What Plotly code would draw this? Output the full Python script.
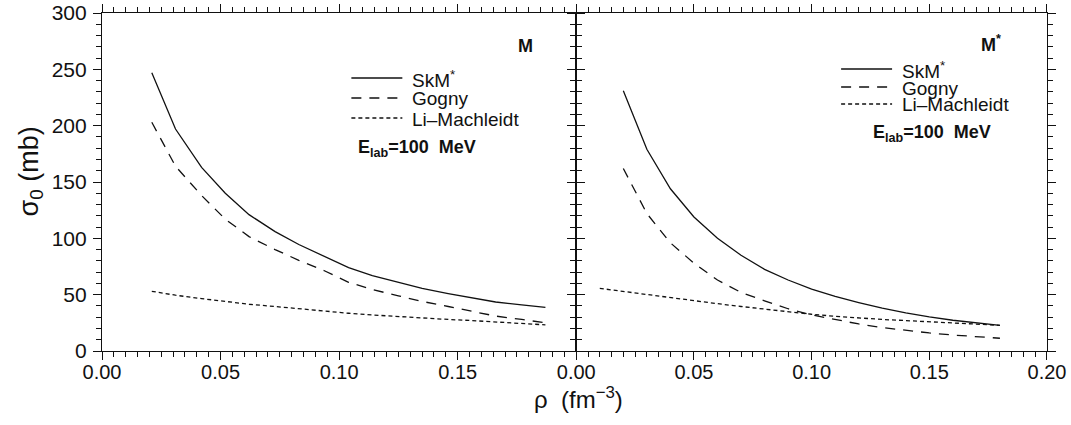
import plotly.graph_objects as go
from plotly.subplots import make_subplots

# ---------------- data ----------------
rho_left = [0.021, 0.031, 0.042, 0.052, 0.062, 0.073, 0.083, 0.094, 0.104,
            0.114, 0.125, 0.135, 0.146, 0.156, 0.166, 0.177, 0.187]
skm_M = [247, 197, 163, 140, 121, 106, 94.5, 84, 74, 67, 61, 55.5, 51, 47, 43.5, 41, 38.8]
gogny_M = [203, 164, 138, 117, 101.5, 90, 80.5, 71, 61, 54.5, 49, 44, 39.5, 35, 31, 28, 25]
li_M = [53, 49.5, 46.5, 44, 41.5, 39.5, 37.5, 35.5, 33.5, 32, 30.5, 29.3, 28, 27, 25.8, 24.5, 23.2]

rho_right = [0.02, 0.03, 0.04, 0.05, 0.06, 0.07, 0.08, 0.09, 0.10,
             0.11, 0.12, 0.13, 0.14, 0.15, 0.16, 0.17, 0.18]
skm_Mstar = [231, 179, 144, 119, 100, 85, 72.5, 63, 55, 48.5, 43, 38, 33.8, 30.2, 27.3, 25, 22.8]
gogny_Mstar = [162, 122, 96, 78, 63, 52, 44.5, 37.5, 32, 28, 24, 20.8, 18.3, 16, 14.2, 12.7, 11.3]
rho_li_right = [0.01, 0.02, 0.03, 0.04, 0.05, 0.06, 0.07, 0.08, 0.09,
                0.10, 0.11, 0.12, 0.13, 0.14, 0.15, 0.16, 0.17, 0.18]
li_Mstar = [55.6, 52.8, 50, 47.3, 44.7, 42, 39.5, 37, 34.8, 32.6, 30.8, 29.3, 28, 27, 26, 25, 23.9, 22.8]

series_names = ["SkM<sup>*</sup>", "Gogny", "Li\u2013Machleidt"]
x_ticks_left = [0.0, 0.05, 0.10, 0.15, 0.20]
x_ticktext_left = ["0.00", "0.05", "0.10", "0.15", ""]
x_ticks_right = [0.0, 0.05, 0.10, 0.15, 0.20]
x_ticktext_right = ["0.00", "0.05", "0.10", "0.15", "0.20"]
y_ticks = [0, 50, 100, 150, 200, 250, 300]

# ---------------- layout geometry ----------------
W, H = 1071, 425
L, R, T, B = 101.5, 1047, 13, 351
FONT = "Liberation Sans, Arial, Helvetica, sans-serif"
INK = "#111111"


def px(xp):
    return (xp - L) / (R - L)


def py(yp):
    return (B - yp) / (B - T)


split = px(576)

fig = make_subplots(rows=1, cols=2, shared_yaxes=True, horizontal_spacing=0)

dashes = ["solid", "10px,8px", "4px,3px"]

panels = [
    (1, [skm_M, gogny_M, li_M], [rho_left, rho_left, rho_left]),
    (2, [skm_Mstar, gogny_Mstar, li_Mstar], [rho_right, rho_right, rho_li_right]),
]
for col, ys, xs in panels:
    for name, xv, yv, d in zip(series_names, xs, ys, dashes):
        fig.add_trace(
            go.Scatter(x=xv, y=yv, mode="lines", name=name, showlegend=False,
                       line=dict(color=INK, width=1.3, dash=d)),
            row=1, col=col)

axis_common = dict(
    range=[0, 0.2], showline=True, linecolor=INK, linewidth=1.2, mirror="ticks",
    ticks="outside", ticklen=8, tickcolor=INK, tickwidth=1.2,
    showgrid=False, zeroline=False, automargin=False, ticklabelstandoff=-5,
    tickfont=dict(family=FONT, size=20, color=INK),
    minor=dict(dtick=0.005, ticks="outside", ticklen=5, tickcolor=INK, tickwidth=1),
)
fig.update_xaxes(**axis_common, tickmode="array", tickvals=x_ticks_left,
                 ticktext=x_ticktext_left, domain=[0, split], row=1, col=1)
fig.update_xaxes(**axis_common, tickmode="array", tickvals=x_ticks_right,
                 ticktext=x_ticktext_right, domain=[split, 1], row=1, col=2)

yaxis_common = dict(
    range=[0, 300], showline=True, linecolor=INK, linewidth=1.2, mirror="ticks",
    ticks="outside", ticklen=8, tickcolor=INK, tickwidth=1.2,
    showgrid=False, zeroline=False, tickvals=y_ticks, automargin=False,
    ticklabelstandoff=2,
    tickfont=dict(family=FONT, size=21, color=INK),
    minor=dict(dtick=10, ticks="outside", ticklen=5, tickcolor=INK, tickwidth=1),
)
fig.update_yaxes(**yaxis_common, row=1, col=1)
fig.update_yaxes(**yaxis_common, showticklabels=False, row=1, col=2)

# ---------------- legend-like keys (decorations) ----------------
shapes = []
annotations = []
key_left = dict(x0=351, x1=402, tx=410, ys=[78, 98, 118])
key_right = dict(x0=841, x1=892, tx=900, ys=[69, 87, 104])
for key in (key_left, key_right):
    for name, d, yk in zip(series_names, dashes, key["ys"]):
        shapes.append(dict(type="line", xref="paper", yref="paper",
                           x0=px(key["x0"]), x1=px(key["x1"]), y0=py(yk), y1=py(yk),
                           line=dict(color=INK, width=1.3, dash=d)))
        annotations.append(dict(xref="paper", yref="paper", x=px(key["tx"]), y=py(yk + 1),
                                xanchor="left", yanchor="middle", showarrow=False,
                                text=name, font=dict(family=FONT, size=19, color=INK)))

# E_lab labels
annotations.append(dict(xref="paper", yref="paper", x=px(356), y=py(148), xanchor="left",
                        yanchor="middle", showarrow=False,
                        text="<b>E<sub>lab</sub>=100&nbsp;&nbsp;MeV</b>",
                        font=dict(family=FONT, size=18, color=INK)))
annotations.append(dict(xref="paper", yref="paper", x=px(871), y=py(133), xanchor="left",
                        yanchor="middle", showarrow=False,
                        text="<b>E<sub>lab</sub>=100&nbsp;&nbsp;MeV</b>",
                        font=dict(family=FONT, size=18, color=INK)))
# panel labels
annotations.append(dict(xref="paper", yref="paper", x=px(525), y=py(46), xanchor="center",
                        yanchor="middle", showarrow=False, text="<b>M</b>",
                        font=dict(family=FONT, size=18, color=INK)))
annotations.append(dict(xref="paper", yref="paper", x=px(991), y=py(43), xanchor="center",
                        yanchor="middle", showarrow=False, text="<b>M<sup>*</sup></b>",
                        font=dict(family=FONT, size=18, color=INK)))
# axis titles
annotations.append(dict(xref="paper", yref="paper", x=px(30), y=py(172), xanchor="center",
                        yanchor="middle", showarrow=False, textangle=-90,
                        text="\u03c3<sub>0</sub>&nbsp;(mb)",
                        font=dict(family=FONT, size=27, color=INK)))
annotations.append(dict(xref="paper", yref="paper", x=px(578), y=py(398), xanchor="center",
                        yanchor="middle", showarrow=False,
                        text="\u03c1&nbsp;&nbsp;(fm<sup>\u22123</sup>)",
                        font=dict(family=FONT, size=24, color=INK)))

fig.update_layout(
    width=W, height=H,
    margin=dict(l=L, r=W - R, t=T, b=H - B, pad=0, autoexpand=False),
    paper_bgcolor="white", plot_bgcolor="white",
    showlegend=False,
    shapes=shapes, annotations=annotations,
)

fig.write_html("out.html", post_script="document.body.style.margin='0';",
               config={"displayModeBar": False})
